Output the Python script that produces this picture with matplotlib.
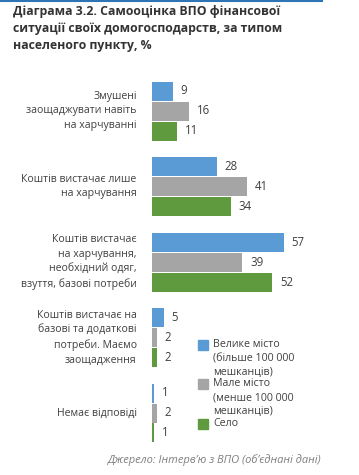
import numpy as np
import matplotlib
matplotlib.use('Agg')
import matplotlib.pyplot as plt
from matplotlib.patches import Rectangle
from matplotlib.lines import Line2D

plt.rcParams['font.family'] = ['Open Sans', 'DejaVu Sans']

# data
categories = ['Змушені\nзаощаджувати навіть\nна харчуванні',
              'Коштів вистачає лише\nна харчування',
              'Коштів вистачає\nна харчування,\nнеобхідний одяг,\nвзуття, базові потреби',
              'Коштів вистачає на\nбазові та додаткові\nпотреби. Маємо\nзаощадження',
              'Немає відповіді']
big_city = [9, 28, 57, 5, 1]
small_city = [16, 41, 39, 2, 2]
village = [11, 34, 52, 2, 1]
series_labels = ['Велике місто\n(більше 100 000\nмешканців)',
                 'Мале місто\n(менше 100 000\nмешканців)',
                 'Село']
colors = ['#5B9BD5', '#A5A5A5', '#5F9A3E']
title = 'Діаграма 3.2. Самооцінка ВПО фінансової\nситуації своїх домогосподарств, за типом\nнаселеного пункту, %'
source = 'Джерело: Інтерв\u2019ю з ВПО (об\u2019єднані дані)'

W, H = 359, 475
fig = plt.figure(figsize=(W / 100, H / 100), dpi=100)

# axes placed in pixels
ax_l, ax_w = 152, 200
ax_t, ax_b = 75, 450
ax = fig.add_axes([ax_l / W, (H - ax_b) / H, ax_w / W, (ax_b - ax_t) / H])
ax.set_xlim(0, ax_w / 2.316)
ax.set_ylim(4 + (ax_b - 413) / 75.5, -(111 - ax_t) / 75.5)
ax.axis('off')

y = np.arange(len(categories))
step = 20 / 75.5
bh = 19 / 75.5
txt_col = '#404040'
for i, vals in enumerate([big_city, small_city, village]):
    pos = y + (i - 1) * step
    bars = ax.barh(pos, vals, height=bh, color=colors[i])
    for p, v in zip(pos, vals):
        ax.annotate(str(v), (v, p), xytext=(5.5, 0), textcoords='offset points',
                    va='center', ha='left', fontsize=8.3, color=txt_col)

for yy, lab in zip(y, categories):
    ax.annotate(lab, (0, yy), xytext=(-11, 0), textcoords='offset points',
                ha='right', va='center', fontsize=7.6, color=txt_col,
                linespacing=1.45)

# legend drawn by hand so the marker sits at the first text line
leg_y = [345, 384, 424]
for c, lab, ly in zip(colors, series_labels, leg_y):
    fig.patches.append(Rectangle((198 / W, (H - ly - 5) / H), 10 / W, 10 / H,
                                 transform=fig.transFigure, color=c))
    fig.text(213 / W, (H - ly + 6) / H, lab, ha='left', va='top', fontsize=7.7,
             color=txt_col, linespacing=1.4)

# title and top rule
fig.add_artist(Line2D([0, 322 / W], [1 - 1 / H, 1 - 1 / H], color='#2E75B6', lw=1.5))
fig.text(13 / W, 1 - 5 / H, title, ha='left', va='top', fontsize=8.8,
         fontweight='bold', color='#333333', linespacing=1.4)
fig.text(322 / W, (H - 460) / H, source, ha='right', va='center', fontsize=8,
         style='italic', color='#7F7F7F')

fig.savefig('out.png', dpi=100)
